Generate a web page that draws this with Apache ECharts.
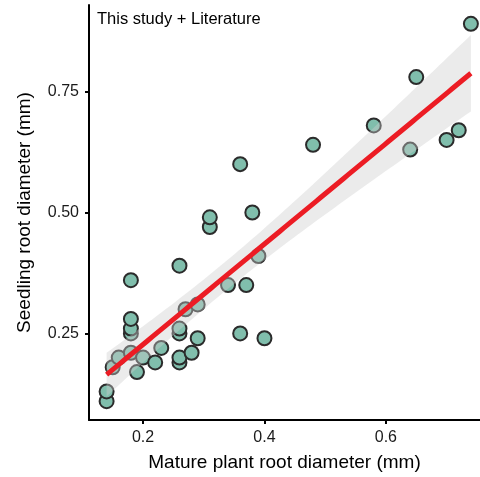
<!DOCTYPE html>
<html><head><meta charset="utf-8">
<script src="https://cdn.jsdelivr.net/npm/echarts@6/dist/echarts.min.js"></script>
<style>html,body{margin:0;padding:0;background:#fff}#c{width:480px;height:477px}</style>
</head><body><div id="c"></div>
<script>
// Mature plant root diameter (mm)
var matureDiam = [0.14,0.14,0.15,0.16,0.18,0.19,0.20,0.22,0.23,0.18,0.18,0.18,0.18,
  0.26,0.26,0.26,0.26,0.26,0.27,0.28,0.29,0.29,0.31,0.31,0.34,0.36,0.36,0.37,0.38,0.39,0.40,
  0.48,0.58,0.64,0.65,0.70,0.72,0.74];
// Seedling root diameter (mm)
var seedlingDiam = [0.11,0.13,0.18,0.20,0.21,0.17,0.20,0.19,0.22,0.25,0.26,0.28,0.36,
  0.19,0.20,0.25,0.26,0.39,0.30,0.21,0.24,0.31,0.47,0.49,0.35,0.60,0.25,0.35,0.50,0.41,0.24,
  0.64,0.68,0.63,0.78,0.65,0.67,0.89];
var xTicks = [0.2, 0.4, 0.6];
var yTicks = [0.25, 0.50, 0.75];
var panelLabel = 'This study + Literature';

// linear regression with 95% confidence band
var n = matureDiam.length, mx = 0, my = 0;
for (var i = 0; i < n; i++) { mx += matureDiam[i]; my += seedlingDiam[i]; }
mx /= n; my /= n;
var sxx = 0, sxy = 0;
for (i = 0; i < n; i++) { sxx += (matureDiam[i]-mx)*(matureDiam[i]-mx); sxy += (matureDiam[i]-mx)*(seedlingDiam[i]-my); }
var slope = sxy / sxx, icpt = my - slope * mx;
var sse = 0;
for (i = 0; i < n; i++) { var r = seedlingDiam[i] - (icpt + slope*matureDiam[i]); sse += r*r; }
var s = Math.sqrt(sse / (n - 2));
var tq = 2.028;
var xMin = Math.min.apply(null, matureDiam), xMax = Math.max.apply(null, matureDiam);
var fitX = [], fitY = [], lo = [], hi = [];
for (i = 0; i <= 80; i++) {
  var xv = xMin + (xMax - xMin) * i / 80;
  var yv = icpt + slope * xv;
  var se = s * Math.sqrt(1/n + (xv-mx)*(xv-mx)/sxx);
  fitX.push(xv); fitY.push(yv); lo.push(yv - tq*se); hi.push(yv + tq*se);
}
var pts = matureDiam.map(function(v, k){ return [v, seedlingDiam[k]]; });
var fitLine = fitX.map(function(v, k){ return [v, fitY[k]]; });

var chart = echarts.init(document.getElementById('c'));
var font = 'Liberation Sans, Arial, sans-serif';
chart.setOption({
  animation: false,
  grid: { left: 89, right: 0, top: 5, bottom: 55, containLabel: false },
  xAxis: {
    type: 'value', min: 0.111, max: 0.755,
    name: 'Mature plant root diameter (mm)', nameLocation: 'middle', nameGap: 33,
    nameTextStyle: { fontFamily: font, fontSize: 19, color: '#000' },
    axisLine: { show: true, lineStyle: { color: '#000', width: 2 } },
    axisTick: { show: true, length: 4, lineStyle: { color: '#000', width: 2 }, customValues: xTicks },
    axisLabel: { fontFamily: font, fontSize: 16, color: '#1a1a1a', margin: 10, customValues: xTicks,
      formatter: function(v){ return String(Math.round(v*10)/10); } },
    splitLine: { show: false }
  },
  yAxis: {
    type: 'value', min: 0.071, max: 0.929,
    name: 'Seedling root diameter (mm)', nameLocation: 'middle', nameGap: 55,
    nameTextStyle: { fontFamily: font, fontSize: 19, color: '#000' },
    axisLine: { show: true, lineStyle: { color: '#000', width: 2 } },
    axisTick: { show: true, length: 4, lineStyle: { color: '#000', width: 2 }, customValues: yTicks },
    axisLabel: { fontFamily: font, fontSize: 16, color: '#1a1a1a', margin: 10, customValues: yTicks,
      formatter: function(v){ return v.toFixed(2); } },
    splitLine: { show: false }
  },
  graphic: [{ type: 'text', left: 97, top: 11,
    style: { text: panelLabel, fontFamily: font, fontSize: 16.5, fill: '#000' } }],
  series: [
    { type: 'scatter', data: pts, symbolSize: 14, z: 2,
      itemStyle: { color: '#80BEAC', borderColor: '#2b2b2b', borderWidth: 2, opacity: 1 } },
    { type: 'custom', z: 3, silent: true, data: [0],
      renderItem: function(params, api) {
        var poly = [];
        for (var k = 0; k < fitX.length; k++) poly.push(api.coord([fitX[k], hi[k]]));
        for (k = fitX.length - 1; k >= 0; k--) poly.push(api.coord([fitX[k], lo[k]]));
        return { type: 'polygon', shape: { points: poly }, style: { fill: 'rgba(205,205,205,0.4)' } };
      } },
    { type: 'line', data: fitLine, z: 4, showSymbol: false, silent: true,
      lineStyle: { color: '#EC1C24', width: 5 } }
  ]
});
</script></body></html>
